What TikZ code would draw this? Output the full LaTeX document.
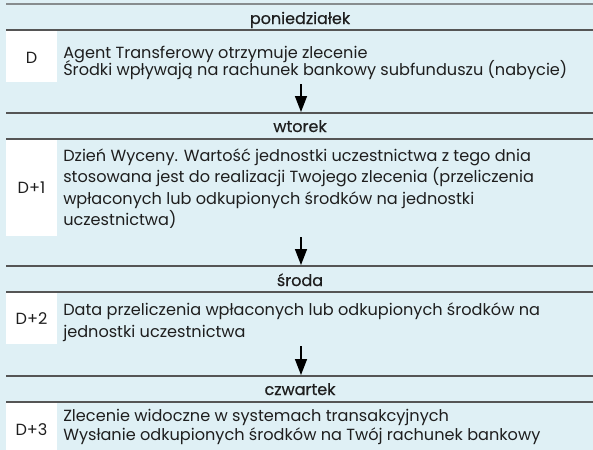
\documentclass[tikz,border=0pt]{standalone}
\usepackage{fontspec}
\setmainfont{Poppins}
\newfontfamily\hdrfont[FakeBold=0.5]{Poppins}
\usetikzlibrary{arrows.meta}
\definecolor{bg}{RGB}{223,240,245}
\definecolor{rulec}{RGB}{85,85,85}
\definecolor{rulelt}{RGB}{135,140,142}
\definecolor{txt}{RGB}{30,30,30}
\tikzset{
  body/.style={anchor=base west, inner sep=0pt, text=txt, font=\fontsize{12.1}{14}\selectfont},
  hdr/.style={anchor=base, inner sep=0pt, text=txt, font=\hdrfont\fontsize{12}{14}\selectfont},
  lbl/.style={anchor=center, inner sep=0pt, text=txt, font=\fontsize{12.1}{14}\selectfont},
  sepline/.style={draw=rulec, line width=1.1pt},
  toprule/.style={draw=rulelt, line width=1.5pt},
  flowarrow/.style={draw=black, line width=1.1pt, -{Triangle[width=9pt,length=12pt]}},
}
\begin{document}
\begin{tikzpicture}[x=0.75pt,y=-0.75pt]
\fill[bg] (0,0) rectangle (593,450);
\useasboundingbox (0,0) rectangle (593,450);

% rules
\draw[toprule] (6,4) -- (593,4);
\draw[sepline] (6,30) -- (593,30);
\draw[sepline] (6,113) -- (593,113);
\draw[sepline] (6,139) -- (593,139);
\draw[sepline] (6,266) -- (593,266);
\draw[sepline] (6,292) -- (593,292);
\draw[sepline] (6,376) -- (593,376);
\draw[sepline] (6,402) -- (593,402);

% white label boxes
\fill[white] (6,31) rectangle (57,82);
\fill[white] (6,140) rectangle (57,236);
\fill[white] (6,293) rectangle (57,344);
\fill[white] (6,403) rectangle (57,450);

% headers
\node[hdr] (h1) at (300,24) {poniedziałek};
\node[hdr] (h2) at (300,132) {wtorek};
\node[hdr] (h3) at (300,286) {środa};
\node[hdr] (h4) at (300,395) {czwartek};

% labels
\node[lbl] (l1) at (31.5,57.5) {D};
\node[lbl] (l2) at (31.5,188) {D+1};
\node[lbl] (l3) at (31.5,318.5) {D+2};
\node[lbl] (l4) at (31.5,430) {D+3};

% block 1
\node[body] (t1a) at (63,58) {Agent Transferowy otrzymuje zlecenie};
\node[body] (t1b) at (63,75) {Środki wpływają na rachunek bankowy subfunduszu (nabycie)};
% block 2
\node[body] (t2a) at (63,161) {Dzień Wyceny. Wartość jednostki uczestnictwa z tego dnia};
\node[body] (t2b) at (63,182.5) {stosowana jest do realizacji Twojego zlecenia (przeliczenia};
\node[body] (t2c) at (63,204) {wpłaconych lub odkupionych środków na jednostki};
\node[body] (t2d) at (63,225.5) {uczestnictwa)};
% block 3
\node[body] (t3a) at (63,315) {Data przeliczenia wpłaconych lub odkupionych środków na};
\node[body] (t3b) at (63,337) {jednostki uczestnictwa};
% block 4
\node[body] (t4a) at (63,421) {Zlecenie widoczne w systemach transakcyjnych};
\node[body] (t4b) at (63,440) {Wysłanie odkupionych środków na Twój rachunek bankowy};

% arrows
\coordinate (a1s) at (301,84);
\coordinate (a1e) at (301,112);
\coordinate (a2s) at (301,237);
\coordinate (a2e) at (301,265);
\coordinate (a3s) at (301,346);
\coordinate (a3e) at (301,375);
\draw[flowarrow] (a1s) -- (a1e);
\draw[flowarrow] (a2s) -- (a2e);
\draw[flowarrow] (a3s) -- (a3e);
\end{tikzpicture}
\end{document}
